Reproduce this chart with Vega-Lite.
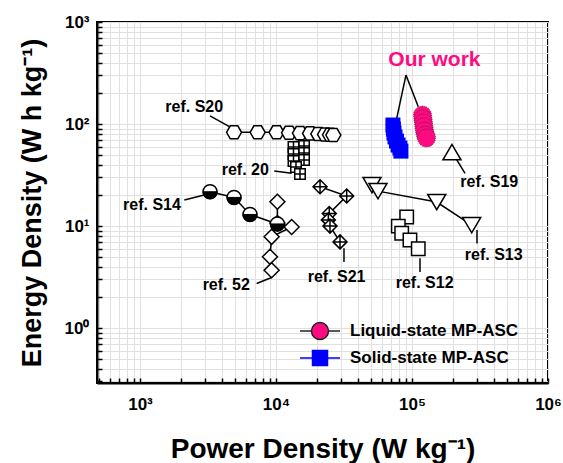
{
  "$schema": "https://vega.github.io/schema/vega-lite/v6.json",
  "width": 451,
  "height": 361,
  "autosize": {"type": "none"},
  "padding": {"left": 97, "top": 22, "right": 15, "bottom": 80},
  "background": "white",
  "config": {
    "view": {"stroke": "black", "strokeWidth": 2},
    "font": "Liberation Sans",
    "legend": {
      "orient": "none", "legendX": 210, "legendY": 296,
      "padding": 0, "offset": 0,
      "symbolSize": 576, "symbolStrokeWidth": 1.5, "rowPadding": 2, "labelOffset": 17, "labelLimit": 0,
      "labelFont": "Liberation Sans", "labelFontSize": 17, "labelFontWeight": "bold", "labelColor": "black"
    }
  },
  "datasets": {
    "pts": [
      {"s": "S20", "P": 4915, "E": 83, "o": 1},
      {"s": "S20", "P": 7330, "E": 83, "o": 2},
      {"s": "S20", "P": 10100, "E": 83, "o": 3},
      {"s": "S20", "P": 12470, "E": 82, "o": 4},
      {"s": "S20", "P": 15010, "E": 81.5, "o": 5},
      {"s": "S20", "P": 17800, "E": 81, "o": 6},
      {"s": "S20", "P": 20480, "E": 80, "o": 7},
      {"s": "S20", "P": 22950, "E": 79, "o": 8},
      {"s": "S20", "P": 24950, "E": 78.5, "o": 9},
      {"s": "S20", "P": 26400, "E": 78, "o": 10},
      {"s": "R20", "P": 16070, "E": 60.9, "o": 1},
      {"s": "R20", "P": 13450, "E": 59.6, "o": 2},
      {"s": "R20", "P": 16070, "E": 52.0, "o": 3},
      {"s": "R20", "P": 13450, "E": 50.8, "o": 4},
      {"s": "R20", "P": 16070, "E": 44.4, "o": 5},
      {"s": "R20", "P": 13450, "E": 43.4, "o": 6},
      {"s": "R20", "P": 14030, "E": 37.9, "o": 7},
      {"s": "R20", "P": 15010, "E": 32.4, "o": 8},
      {"s": "S14", "P": 3274, "E": 21.7, "o": 1},
      {"s": "S14", "P": 4915, "E": 19.1, "o": 2},
      {"s": "S14", "P": 6440, "E": 13.0, "o": 3},
      {"s": "S14", "P": 10240, "E": 10.5, "o": 4},
      {"s": "R52", "P": 10240, "E": 17.3, "o": 1},
      {"s": "R52", "P": 10240, "E": 10.7, "o": 2},
      {"s": "R52", "P": 13030, "E": 9.8, "o": 3},
      {"s": "R52", "P": 9290, "E": 7.85, "o": 4},
      {"s": "R52", "P": 9030, "E": 5.0, "o": 5},
      {"s": "R52", "P": 9290, "E": 3.7, "o": 6},
      {"s": "S21", "P": 21080, "E": 24.3, "o": 1},
      {"s": "S21", "P": 33100, "E": 19.7, "o": 2},
      {"s": "S21", "P": 24650, "E": 13.3, "o": 3},
      {"s": "S21", "P": 24260, "E": 11.5, "o": 4},
      {"s": "S21", "P": 24950, "E": 10.0, "o": 5},
      {"s": "S21", "P": 29560, "E": 7.0, "o": 6},
      {"s": "S13", "P": 50800, "E": 25.2, "o": 1},
      {"s": "S13", "P": 56230, "E": 22.0, "o": 2},
      {"s": "S13", "P": 152000, "E": 17.2, "o": 3},
      {"s": "S13", "P": 274800, "E": 10.2, "o": 4},
      {"s": "S19", "P": 196700, "E": 53.1, "o": 1},
      {"s": "S12", "P": 91400, "E": 12.3, "o": 1},
      {"s": "S12", "P": 79300, "E": 10.0, "o": 2},
      {"s": "S12", "P": 84000, "E": 8.5, "o": 3},
      {"s": "S12", "P": 96600, "E": 7.3, "o": 4},
      {"s": "S12", "P": 111200, "E": 6.0, "o": 5},
      {"s": "Solid-state MP-ASC", "P": 72400, "E": 97.8, "o": 1},
      {"s": "Solid-state MP-ASC", "P": 73000, "E": 89.3, "o": 2},
      {"s": "Solid-state MP-ASC", "P": 73700, "E": 81.6, "o": 3},
      {"s": "Solid-state MP-ASC", "P": 75000, "E": 74.7, "o": 4},
      {"s": "Solid-state MP-ASC", "P": 76900, "E": 68.1, "o": 5},
      {"s": "Solid-state MP-ASC", "P": 79000, "E": 62.3, "o": 6},
      {"s": "Solid-state MP-ASC", "P": 81500, "E": 58.2, "o": 7},
      {"s": "Solid-state MP-ASC", "P": 82900, "E": 54.3, "o": 8},
      {"s": "Liquid-state MP-ASC", "P": 119400, "E": 122.5, "o": 1},
      {"s": "Liquid-state MP-ASC", "P": 120400, "E": 111.9, "o": 2},
      {"s": "Liquid-state MP-ASC", "P": 121500, "E": 102.3, "o": 3},
      {"s": "Liquid-state MP-ASC", "P": 122500, "E": 93.6, "o": 4},
      {"s": "Liquid-state MP-ASC", "P": 123600, "E": 85.4, "o": 5},
      {"s": "Liquid-state MP-ASC", "P": 125700, "E": 78.0, "o": 6},
      {"s": "Liquid-state MP-ASC", "P": 127900, "E": 72.9, "o": 7}
    ],
    "leaders": [
      {"P": 3274, "E": 120.5, "P2": 4540, "E2": 94.2},
      {"P": 90300, "E": 302, "P2": 77200, "E2": 113.8},
      {"P": 90300, "E": 302, "P2": 111200, "E2": 147.9},
      {"P": 9716, "E": 34.6, "P2": 13030, "E2": 32.9},
      {"P": 2119, "E": 18.0, "P2": 2918, "E2": 20.1},
      {"P": 7212, "E": 2.74, "P2": 9290, "E2": 3.14},
      {"P": 31620, "E": 6.08, "P2": 31620, "E2": 4.44},
      {"P": 114500, "E": 4.85, "P2": 114500, "E2": 3.54},
      {"P": 300600, "E": 9.14, "P2": 300600, "E2": 6.76},
      {"P": 207000, "E": 47.7, "P2": 245500, "E2": 32.9}
    ],
    "labels": [
      {"t": "ref. S20", "P": 2506, "E": 148},
      {"t": "ref. 20", "P": 5945, "E": 35.4},
      {"t": "ref. S14", "P": 1225, "E": 16.1},
      {"t": "ref. 52", "P": 4305, "E": 2.64},
      {"t": "ref. S21", "P": 27900, "E": 3.18},
      {"t": "ref. S12", "P": 123900, "E": 2.74},
      {"t": "ref. S13", "P": 399000, "E": 5.2},
      {"t": "ref. S19", "P": 370000, "E": 26.8},
      {"t": "Our work", "P": 146200, "E": 424}
    ]
  },
  "encoding": {
    "x": {
      "field": "P", "type": "quantitative",
      "scale": {"type": "log", "domain": [483, 1000000], "nice": false},
      "axis": {
        "title": "Power Density (W kg⁻¹)",
        "titleFont": "Liberation Sans", "titleFontSize": 28, "titleFontWeight": "bold", "titleColor": "black",
        "titlePadding": 23,
        "values": [500, 600, 700, 800, 900, 1000, 2000, 3000, 4000, 5000, 6000, 7000, 8000, 9000, 10000, 20000, 30000, 40000, 50000, 60000, 70000, 80000, 90000, 100000, 200000, 300000, 400000, 500000, 600000, 700000, 800000, 900000, 1000000],
        "labelExpr": "datum.value == 1000 ? '10³' : datum.value == 10000 ? '10⁴' : datum.value == 100000 ? '10⁵' : datum.value == 1000000 ? '10⁶' : ''",
        "labelFont": "Liberation Sans", "labelFontSize": 17, "labelFontWeight": "bold", "labelColor": "black",
        "labelFlush": false, "labelOverlap": false, "labelPadding": 18,
        "tickSize": -5,
        "tickColor": "black", "tickWidth": 1.5,
        "domainColor": "black", "domainWidth": 2,
        "grid": true, "gridColor": "#e0e0e0", "gridWidth": 1
      }
    },
    "y": {
      "field": "E", "type": "quantitative",
      "scale": {"type": "log", "domain": [0.29, 1000], "nice": false},
      "axis": {
        "title": "Energy Density (W h kg⁻¹)",
        "titleFont": "Liberation Sans", "titleFontSize": 27, "titleFontWeight": "bold", "titleColor": "black",
        "titlePadding": 18,
        "values": [0.3, 0.4, 0.5, 0.6, 0.7, 0.8, 0.9, 1, 2, 3, 4, 5, 6, 7, 8, 9, 10, 20, 30, 40, 50, 60, 70, 80, 90, 100, 200, 300, 400, 500, 600, 700, 800, 900, 1000],
        "labelExpr": "datum.value == 1 ? '10⁰' : datum.value == 10 ? '10¹' : datum.value == 100 ? '10²' : datum.value == 1000 ? '10³' : ''",
        "labelFont": "Liberation Sans", "labelFontSize": 17, "labelFontWeight": "bold", "labelColor": "black",
        "labelFlush": false, "labelOverlap": false, "labelPadding": 13,
        "tickSize": -5,
        "tickColor": "black", "tickWidth": 1.5,
        "domainColor": "black", "domainWidth": 2,
        "grid": true, "gridColor": "#e0e0e0", "gridWidth": 1
      }
    }
  },
  "layer": [
    {
      "data": {"name": "pts"},
      "transform": [{"filter": {"field": "s", "oneOf": ["S20", "S14", "R52", "S21", "S13"]}}],
      "mark": {"type": "line", "color": "black", "strokeWidth": 1.5},
      "encoding": {"detail": {"field": "s"}, "order": {"field": "o", "type": "quantitative"}}
    },
    {
      "data": {"name": "leaders"},
      "mark": {"type": "rule", "color": "black", "strokeWidth": 1.5},
      "encoding": {"x2": {"field": "P2"}, "y2": {"field": "E2"}}
    },
    {
      "data": {"name": "pts"},
      "transform": [{"filter": "datum.s == 'S20'"}],
      "mark": {"type": "point", "shape": "M-1,0L-0.5,-0.87L0.5,-0.87L1,0L0.5,0.87L-0.5,0.87Z", "size": 225, "filled": true, "fill": "white", "stroke": "black", "strokeWidth": 1.5, "opacity": 1},
      "encoding": {}
    },
    {
      "data": {"name": "pts"},
      "transform": [{"filter": "datum.s == 'R20'"}],
      "mark": {"type": "point", "shape": "M-1,-1H1V1H-1Z M0,-1V1 M-1,0H1", "size": 110, "filled": true, "fill": "white", "stroke": "black", "strokeWidth": 1.5, "opacity": 1},
      "encoding": {}
    },
    {
      "data": {"name": "pts"},
      "transform": [{"filter": "datum.s == 'R52'"}],
      "mark": {"type": "point", "shape": "M0,-1L1,0L0,1L-1,0Z", "size": 225, "filled": true, "fill": "white", "stroke": "black", "strokeWidth": 1.5, "opacity": 1},
      "encoding": {}
    },
    {
      "data": {"name": "pts"},
      "transform": [{"filter": "datum.s == 'S14'"}],
      "mark": {"type": "point", "shape": "circle", "size": 196, "filled": true, "fill": "white", "stroke": "black", "strokeWidth": 1.5, "opacity": 1},
      "encoding": {}
    },
    {
      "data": {"name": "pts"},
      "transform": [{"filter": "datum.s == 'S14'"}],
      "mark": {"type": "point", "shape": "M-1,0A1,1 0 0,0 1,0Z", "size": 196, "filled": true, "fill": "black", "stroke": "black", "strokeWidth": 1, "opacity": 1},
      "encoding": {}
    },
    {
      "data": {"name": "pts"},
      "transform": [{"filter": "datum.s == 'S21'"}],
      "mark": {"type": "point", "shape": "M0,-1L1,0L0,1L-1,0Z M0,-1V1 M-1,0H1", "size": 196, "filled": true, "fill": "white", "stroke": "black", "strokeWidth": 1.5, "opacity": 1},
      "encoding": {}
    },
    {
      "data": {"name": "pts"},
      "transform": [{"filter": "datum.s == 'S13'"}],
      "mark": {"type": "point", "shape": "M-1,-0.85H1L0,0.85Z", "size": 324, "filled": true, "fill": "white", "stroke": "black", "strokeWidth": 1.5, "opacity": 1},
      "encoding": {}
    },
    {
      "data": {"name": "pts"},
      "transform": [{"filter": "datum.s == 'S19'"}],
      "mark": {"type": "point", "shape": "M-1,0.85H1L0,-0.85Z", "size": 324, "filled": true, "fill": "white", "stroke": "black", "strokeWidth": 1.5, "opacity": 1},
      "encoding": {}
    },
    {
      "data": {"name": "pts"},
      "transform": [{"filter": "datum.s == 'S12'"}],
      "mark": {"type": "point", "shape": "square", "size": 180, "filled": true, "fill": "white", "stroke": "black", "strokeWidth": 1.5, "opacity": 1},
      "encoding": {}
    },
    {
      "data": {"name": "pts"},
      "transform": [{"filter": "datum.s == 'Solid-state MP-ASC'"}],
      "mark": {"type": "point", "shape": "square", "size": 225, "filled": true, "opacity": 1},
      "encoding": {
        "fill": {"field": "s", "type": "nominal", "title": null,
          "scale": {"domain": ["Liquid-state MP-ASC", "Solid-state MP-ASC"], "range": ["#ff0a80", "#0000ff"]}
        }
      }
    },
    {
      "data": {"name": "pts"},
      "transform": [{"filter": "datum.s == 'Liquid-state MP-ASC'"}],
      "mark": {"type": "point", "shape": "circle", "size": 324, "filled": true, "opacity": 1, "stroke": "#5a2040", "strokeWidth": 0.8, "strokeDash": [1, 1]},
      "encoding": {
        "fill": {"field": "s", "type": "nominal", "title": null}
      }
    },
    {
      "data": {"name": "pts"},
      "transform": [{"filter": "datum.o < 0"}],
      "mark": {"type": "point", "filled": true, "opacity": 1, "strokeWidth": 1.5},
      "encoding": {
        "fill": {"field": "s", "type": "nominal", "title": null},
        "stroke": {"field": "s", "type": "nominal", "title": null,
          "scale": {"domain": ["Liquid-state MP-ASC", "Solid-state MP-ASC"], "range": ["#222222", "#0000ff"]}
        },
        "shape": {"field": "s", "type": "nominal", "title": null,
          "scale": {"domain": ["Liquid-state MP-ASC", "Solid-state MP-ASC"], "range": [
            "M-1.667,0H-0.708M0.708,0H1.667M0.708,0A0.708,0.708 0 1,1 -0.708,0A0.708,0.708 0 1,1 0.708,0Z",
            "M-1.667,0H-0.625M0.625,0H1.667M-0.625,-0.625H0.625V0.625H-0.625Z"
          ]}
        }
      }
    },
    {
      "data": {"name": "labels"},
      "transform": [{"filter": "datum.t != 'Our work'"}],
      "mark": {"type": "text", "font": "Liberation Sans", "fontSize": 16, "fontWeight": "bold", "color": "black", "align": "center", "baseline": "middle"},
      "encoding": {"text": {"field": "t"}}
    },
    {
      "data": {"name": "labels"},
      "transform": [{"filter": "datum.t == 'Our work'"}],
      "mark": {"type": "text", "font": "Liberation Sans", "fontSize": 21, "fontWeight": "bold", "color": "#ff0a80", "align": "center", "baseline": "middle"},
      "encoding": {"text": {"field": "t"}}
    }
  ]
}
